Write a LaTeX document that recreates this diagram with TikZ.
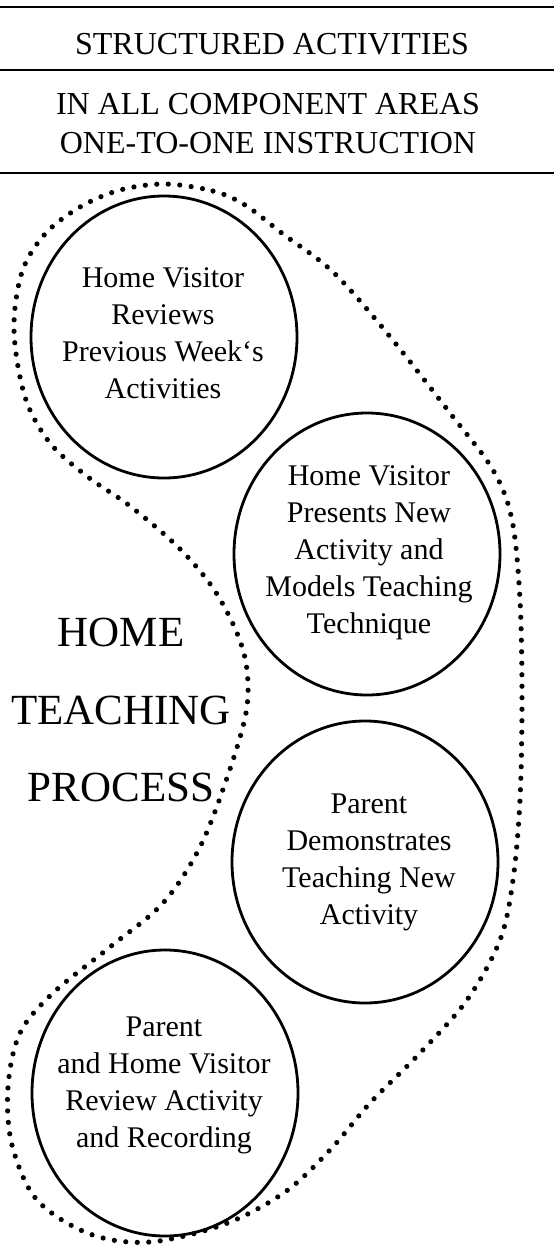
\documentclass[tikz,border=0pt]{standalone}
\usepackage{fontspec}
\setmainfont{Liberation Serif}
\usetikzlibrary{shapes.geometric}
\begin{document}
\begin{tikzpicture}[x=1pt,y=-1pt,
  rule/.style={line width=1.6pt},
  heading/.style={inner sep=0pt, align=center, font=\fontsize{32}{39}\selectfont},
  bigtitle/.style={inner sep=0pt, align=center, font=\fontsize{43}{77.5}\selectfont},
  ring/.style={draw, ellipse, line width=2.8pt, inner sep=0pt,
    minimum width=266pt, minimum height=282pt},
  ringtext/.style={inner sep=0pt, align=center, font=\fontsize{30}{37}\selectfont},
  dotline/.style={line width=5.2pt, line cap=round, dash pattern=on 0pt off 11.5pt}]
\useasboundingbox (0,0) rectangle (554,1251);

% header rules and captions
\coordinate (r1l) at (0,7);   \coordinate (r1r) at (554,7);
\coordinate (r2l) at (0,70);  \coordinate (r2r) at (554,70);
\coordinate (r3l) at (0,173); \coordinate (r3r) at (554,173);
\draw[rule] (r1l) -- (r1r);
\draw[rule] (r2l) -- (r2r);
\draw[rule] (r3l) -- (r3r);
\node[heading] (h1) at (272,44) {STRUCTURED ACTIVITIES};
\node[heading] (h2) at (268,124) {IN ALL COMPONENT AREAS\\ONE-TO-ONE INSTRUCTION};

% dotted envelope around the four stages
\draw[dotline] plot[smooth cycle, tension=0.55] coordinates {
  (165,184) (213,191) (245,205) (283,234) (333,272) (387,333) (450,413)
  (493,470) (512,520) (520,600) (522,700) (520,800) (513,880) (500,940)
  (467,1000) (420,1053) (370,1103) (330,1150) (285,1192) (225,1224)
  (150,1242) (90,1234) (37,1200) (12,1145) (8,1087) (20,1033) (53,993)
  (110,947) (163,903) (200,847) (228,775) (246,713) (247,670) (237,633)
  (213,588) (178,547) (130,506) (88,477) (50,443) (25,397) (14,330)
  (22,272) (45,234) (80,207) (120,190)};

% the four stages of a visit
\node[ring] (s1) at (164,337) {};
\node[ring] (s2) at (367,554) {};
\node[ring] (s3) at (365,862) {};
\node[ring, minimum height=286pt] (s4) at (165,1093) {};

\node[ringtext] (s1t) at (163,333) {Home Visitor\\Reviews\\Previous Week`s\\Activities};
\node[ringtext] (s2t) at (369,553) {Home Visitor\\Presents New\\Activity and\\Models Teaching\\Technique};
\node[ringtext] (s3t) at (369,862) {Parent\\Demonstrates\\Teaching New\\Activity};
\node[ringtext] (s4t) at (164,1085) {Parent\\and Home Visitor\\Review Activity\\and Recording};

\node[bigtitle] (t) at (121,710) {HOME\\TEACHING\\PROCESS};
\end{tikzpicture}
\end{document}
